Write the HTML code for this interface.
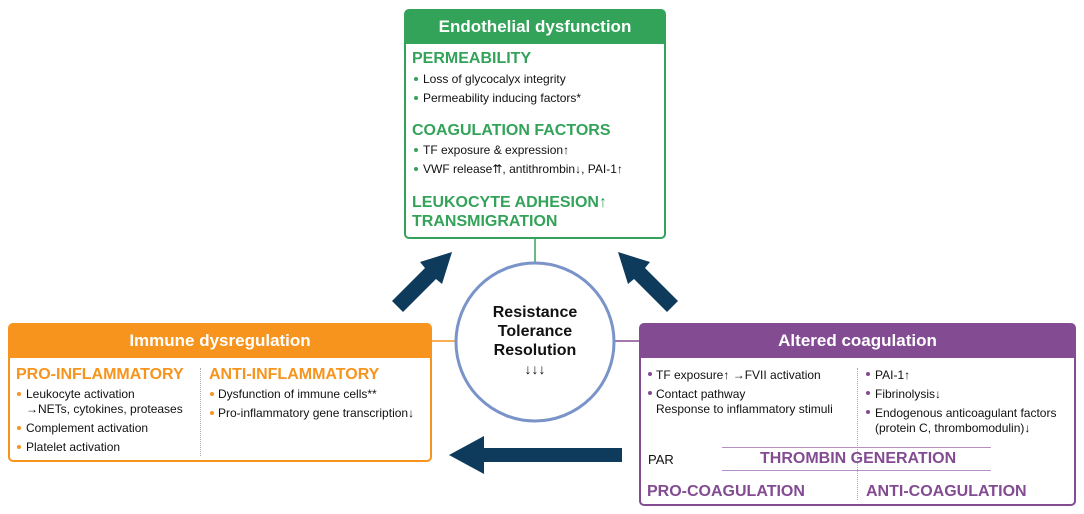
<!DOCTYPE html>
<html><head><meta charset="utf-8"><style>
*{margin:0;padding:0;box-sizing:border-box}
body{width:1084px;height:514px;background:#fff;font-family:"Liberation Sans",Arial,sans-serif;position:relative;overflow:hidden;color:#111}
.abs{position:absolute}
.box{position:absolute;border:2px solid;border-radius:5px;background:#fff}
.hdr{color:#fff;font-weight:bold;font-size:17px;text-align:center;height:34px;line-height:33px;margin:-1px -1px 0 -1px;border-radius:4px 4px 0 0}
.t{position:absolute;font-size:12px;line-height:15px;white-space:nowrap}
.h{position:absolute;font-weight:bold;white-space:nowrap}
.b{position:absolute;width:4px;height:4px;border-radius:50%}
</style></head><body>
<svg class="abs" style="left:0;top:0" width="1084" height="514">
<line x1="535" y1="238" x2="535" y2="262" stroke="#34a35a" stroke-width="1.5"/>
<line x1="432" y1="341" x2="456" y2="341" stroke="#f7941d" stroke-width="1.5"/>
<line x1="615" y1="341" x2="639" y2="341" stroke="#834b92" stroke-width="1.5"/>
<circle cx="535" cy="342" r="79" fill="#fff" stroke="#7a93c8" stroke-width="3"/>
<g fill="#0e3a5c">
<polygon points="392,301 425,268 420,262 452,252 442,284 436,279 403,312"/>
<polygon points="678,301 645,268 650,262 618,252 628,284 634,279 667,312"/>
<polygon points="622,448 484,448 484,436 449,455 484,474 484,462 622,462"/>
</g>
</svg>
<div class="abs" style="left:455px;top:303px;width:160px;text-align:center;font-weight:bold;font-size:16px;line-height:19px">Resistance<br>Tolerance<br>Resolution<br><span style="font-weight:normal;font-size:14px">↓↓↓</span></div>

<div class="box" style="left:404px;top:9px;width:262px;height:230px;border-color:#34a35a">
<div class="hdr" style="background:#34a35a">Endothelial dysfunction</div>
</div>
<div class="h" style="left:412px;top:50px;font-size:16px;color:#34a35a">PERMEABILITY</div>
<div class="b" style="left:414px;top:77px;background:#34a35a"></div><div class="t" style="left:423px;top:72px">Loss of glycocalyx integrity</div>
<div class="b" style="left:414px;top:96px;background:#34a35a"></div><div class="t" style="left:423px;top:91px">Permeability inducing factors*</div>
<div class="h" style="left:412px;top:122px;font-size:16px;color:#34a35a">COAGULATION FACTORS</div>
<div class="b" style="left:414px;top:148px;background:#34a35a"></div><div class="t" style="left:423px;top:143px">TF exposure &amp; expression↑</div>
<div class="b" style="left:414px;top:167px;background:#34a35a"></div><div class="t" style="left:423px;top:162px">VWF release⇈, antithrombin↓, PAI-1↑</div>
<div class="h" style="left:412px;top:193px;font-size:16px;line-height:19px;color:#34a35a">LEUKOCYTE ADHESION↑<br>TRANSMIGRATION</div>

<div class="box" style="left:8px;top:323px;width:424px;height:139px;border-color:#f7941d">
<div class="hdr" style="background:#f7941d">Immune dysregulation</div>
</div>
<div class="abs" style="left:200px;top:368px;height:88px;border-left:1px dotted #aaa"></div>
<div class="h" style="left:16px;top:366px;font-size:16px;color:#f7941d">PRO-INFLAMMATORY</div>
<div class="b" style="left:17px;top:392px;background:#f7941d"></div><div class="t" style="left:26px;top:387px">Leukocyte activation<br>→NETs, cytokines, proteases</div>
<div class="b" style="left:17px;top:426px;background:#f7941d"></div><div class="t" style="left:26px;top:421px">Complement activation</div>
<div class="b" style="left:17px;top:445px;background:#f7941d"></div><div class="t" style="left:26px;top:440px">Platelet activation</div>
<div class="h" style="left:209px;top:366px;font-size:16px;color:#f7941d">ANTI-INFLAMMATORY</div>
<div class="b" style="left:210px;top:392px;background:#f7941d"></div><div class="t" style="left:218px;top:387px">Dysfunction of immune cells**</div>
<div class="b" style="left:210px;top:411px;background:#f7941d"></div><div class="t" style="left:218px;top:406px">Pro-inflammatory gene transcription↓</div>

<div class="box" style="left:639px;top:323px;width:437px;height:183px;border-color:#834b92">
<div class="hdr" style="background:#834b92">Altered coagulation</div>
</div>
<div class="abs" style="left:857px;top:368px;height:132px;border-left:1px dotted #aaa"></div>
<div class="b" style="left:648px;top:372px;background:#834b92"></div><div class="t" style="left:656px;top:368px">TF exposure↑ →FVII activation</div>
<div class="b" style="left:648px;top:391px;background:#834b92"></div><div class="t" style="left:656px;top:387px">Contact pathway<br>Response to inflammatory stimuli</div>
<div class="b" style="left:866px;top:372px;background:#834b92"></div><div class="t" style="left:875px;top:368px">PAI-1↑</div>
<div class="b" style="left:866px;top:391px;background:#834b92"></div><div class="t" style="left:875px;top:387px">Fibrinolysis↓</div>
<div class="b" style="left:866px;top:410px;background:#834b92"></div><div class="t" style="left:875px;top:406px">Endogenous anticoagulant factors<br>(protein C, thrombomodulin)↓</div>
<div class="abs" style="left:722px;top:447px;width:269px;border-top:1px solid #b88fc4"></div>
<div class="abs" style="left:722px;top:470px;width:269px;border-top:1px solid #b88fc4"></div>
<div class="t" style="left:648px;top:452px;font-size:13px">PAR</div>
<div class="h" style="left:760px;top:450px;font-size:16px;color:#834b92">THROMBIN GENERATION</div>
<div class="h" style="left:647px;top:483px;font-size:16px;color:#834b92">PRO-COAGULATION</div>
<div class="h" style="left:866px;top:483px;font-size:16px;color:#834b92">ANTI-COAGULATION</div>
</body></html>
